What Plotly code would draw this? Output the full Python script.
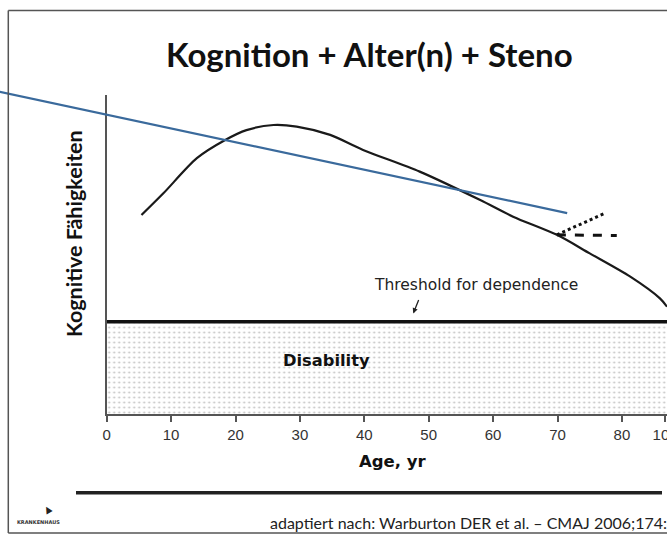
import plotly.graph_objects as go

# ---------------- data ----------------
age = [5.4, 8.8, 14.0, 18.4, 21.7, 25.9, 29.5, 34.7, 39.8, 48.6, 58.0, 63.1, 69.9, 75.0, 81.3, 85.9, 87.0]
cognition = [62.4, 69.2, 80.2, 85.9, 89.0, 90.6, 90.1, 87.5, 82.8, 76.0, 67.1, 61.9, 56.2, 50.4, 43.1, 36.3, 33.7]

dotted_x = [69.9, 77.5]
dotted_y = [56.2, 63.1]
dashed_x = [69.9, 79.2]
dashed_y = [56.2, 56.0]

threshold = 29.0
threshold_x = [0, 87.0]

blue_x = [-16.6, 71.5]
blue_y = [101.0, 63.0]

tick_vals = [0, 10, 20, 30, 40, 50, 60, 70, 80, 86.7]
tick_text = ["0", "10", "20", "30", "40", "50", "60", "70", "80", "100"]

X_RANGE = [0, 87.0]
Y_RANGE = [0, 100]

# ---------------- layout geometry ----------------
W, H = 667, 535
PLOT_L, PLOT_R = 106.7, 667.0
PLOT_T, PLOT_B = 95.0, 414.3


def pxx(x):
    return x / W


def pxy(y):
    return 1 - y / H


xdom = [pxx(PLOT_L), pxx(PLOT_R)]
ydom = [pxy(PLOT_B), pxy(PLOT_T)]
# second (unclipped) subplot spanning the whole figure with identical scale
xs = (X_RANGE[1] - X_RANGE[0]) / (PLOT_R - PLOT_L)
ys = (Y_RANGE[1] - Y_RANGE[0]) / (PLOT_B - PLOT_T)
x2_range = [X_RANGE[0] - PLOT_L * xs, X_RANGE[0] + (W - PLOT_L) * xs]
y2_range = [Y_RANGE[0] - (H - PLOT_B) * ys, Y_RANGE[0] + PLOT_B * ys]

fig = go.Figure()

# disability region (stippled)
fig.add_trace(go.Scatter(
    x=threshold_x, y=[threshold, threshold], mode="lines",
    line=dict(width=0), fill="tozeroy", fillcolor="rgba(255,255,255,0)",
    fillpattern=dict(shape=".", fgcolor="#8a8a8a", bgcolor="white", size=5, solidity=0.14),
    hoverinfo="skip", showlegend=False))

# threshold line
fig.add_trace(go.Scatter(
    x=threshold_x, y=[threshold, threshold], mode="lines",
    line=dict(color="#111111", width=3.5), showlegend=False, hoverinfo="skip"))

# cognition curve
fig.add_trace(go.Scatter(
    x=age, y=cognition, mode="lines",
    line=dict(color="#1a1a1a", width=2.2, shape="spline", smoothing=0.8),
    showlegend=False))

# dotted and dashed branches
fig.add_trace(go.Scatter(
    x=dotted_x, y=dotted_y, mode="lines",
    line=dict(color="#111111", width=3, dash="dot"), showlegend=False))
fig.add_trace(go.Scatter(
    x=dashed_x, y=dashed_y, mode="lines",
    line=dict(color="#111111", width=3, dash="dash"), showlegend=False))

# blue line on full-figure axes (same scale as the main axes)
fig.add_trace(go.Scatter(
    x=blue_x, y=blue_y, mode="lines", xaxis="x2", yaxis="y2",
    line=dict(color="#3a6a9c", width=2.2), showlegend=False))

annotations = [
    dict(text="<b>Kognition + Alter(n) + Steno</b>", x=pxx(369), y=pxy(54),
         xref="paper", yref="paper", showarrow=False, xanchor="center", yanchor="middle",
         font=dict(family="Lato", size=33, color="#111111")),
    dict(text="<b>Kognitive Fähigkeiten</b>", x=pxx(74), y=pxy(234), textangle=-90,
         xref="paper", yref="paper", showarrow=False, xanchor="center", yanchor="middle",
         font=dict(family="Lato", size=21.5, color="#111111")),
    dict(text="<b>Age, yr</b>", x=pxx(393), y=pxy(461),
         xref="paper", yref="paper", showarrow=False, xanchor="center", yanchor="middle",
         font=dict(family="DejaVu Sans", size=16.5, color="#111111")),
    dict(text="<b>Disability</b>", x=34.1, y=17.0, xref="x", yref="y",
         showarrow=False, xanchor="center", yanchor="middle",
         font=dict(family="DejaVu Sans", size=16.3, color="#111111")),
    dict(text="Threshold for dependence", x=pxx(476), y=pxy(285),
         xref="paper", yref="paper", showarrow=False, xanchor="center", yanchor="middle",
         font=dict(family="DejaVu Sans", size=15.5, color="#222222")),
    dict(text="", x=47.6, y=31.6, xref="x", yref="y", ax=6, ay=-15,
         showarrow=True, arrowhead=2, arrowsize=0.8, arrowwidth=1.3, arrowcolor="#222222"),
    dict(text="adaptiert nach: Warburton DER et al. – CMAJ 2006;174:", x=pxx(268), y=pxy(522),
         xref="paper", yref="paper", showarrow=False, xanchor="left", yanchor="middle",
         font=dict(family="Lato", size=16, color="#222222")),
    dict(text="<b>KRANKENHAUS</b>", x=pxx(38), y=pxy(522),
         xref="paper", yref="paper", showarrow=False, xanchor="center", yanchor="middle",
         font=dict(family="DejaVu Sans", size=5, color="#333333")),
    dict(text="▲", x=pxx(48), y=pxy(509), textangle=-30,
         xref="paper", yref="paper", showarrow=False, xanchor="center", yanchor="middle",
         font=dict(family="DejaVu Sans", size=9, color="#222222")),
]

shapes = [
    # frame
    dict(type="line", xref="paper", yref="paper", x0=pxx(8.3), x1=1, y0=pxy(10.5), y1=pxy(10.5),
         line=dict(color="#555555", width=1.5)),
    dict(type="line", xref="paper", yref="paper", x0=pxx(8.3), x1=pxx(8.3), y0=pxy(10.5), y1=pxy(533),
         line=dict(color="#555555", width=1.5)),
    dict(type="line", xref="paper", yref="paper", x0=pxx(8.3), x1=1, y0=pxy(533), y1=pxy(533),
         line=dict(color="#555555", width=1.5)),
    # footer rule
    dict(type="line", xref="paper", yref="paper", x0=pxx(76), x1=pxx(662), y0=pxy(492.7), y1=pxy(492.7),
         line=dict(color="#222222", width=3.5)),
]

fig.update_layout(
    width=W, height=H,
    margin=dict(l=0, r=0, t=0, b=0),
    paper_bgcolor="white", plot_bgcolor="rgba(0,0,0,0)",
    showlegend=False,
    xaxis=dict(domain=xdom, range=X_RANGE, showgrid=False, zeroline=False, automargin=False,
               showline=True, linecolor="#555555", linewidth=1.5,
               ticks="outside", ticklen=6, tickwidth=1.5, tickcolor="#555555",
               tickvals=tick_vals, ticktext=tick_text, ticklabeloverflow="allow",
               tickfont=dict(family="Liberation Sans", size=15, color="#333333")),
    yaxis=dict(domain=ydom, range=Y_RANGE, showgrid=False, zeroline=False, automargin=False,
               showline=True, linecolor="#555555", linewidth=1.5,
               showticklabels=False, ticks=""),
    xaxis2=dict(domain=[0, 1], range=x2_range, visible=False, anchor="y2", automargin=False),
    yaxis2=dict(domain=[0, 1], range=y2_range, visible=False, anchor="x2", automargin=False),
    annotations=annotations,
    shapes=shapes,
)

post = (
    "document.documentElement.style.overflow='hidden';"
    "document.body.style.margin='0';document.body.style.overflow='hidden';"
)

fig.write_html(
    "out.html",
    config={"displayModeBar": False},
    post_script=post,
)
